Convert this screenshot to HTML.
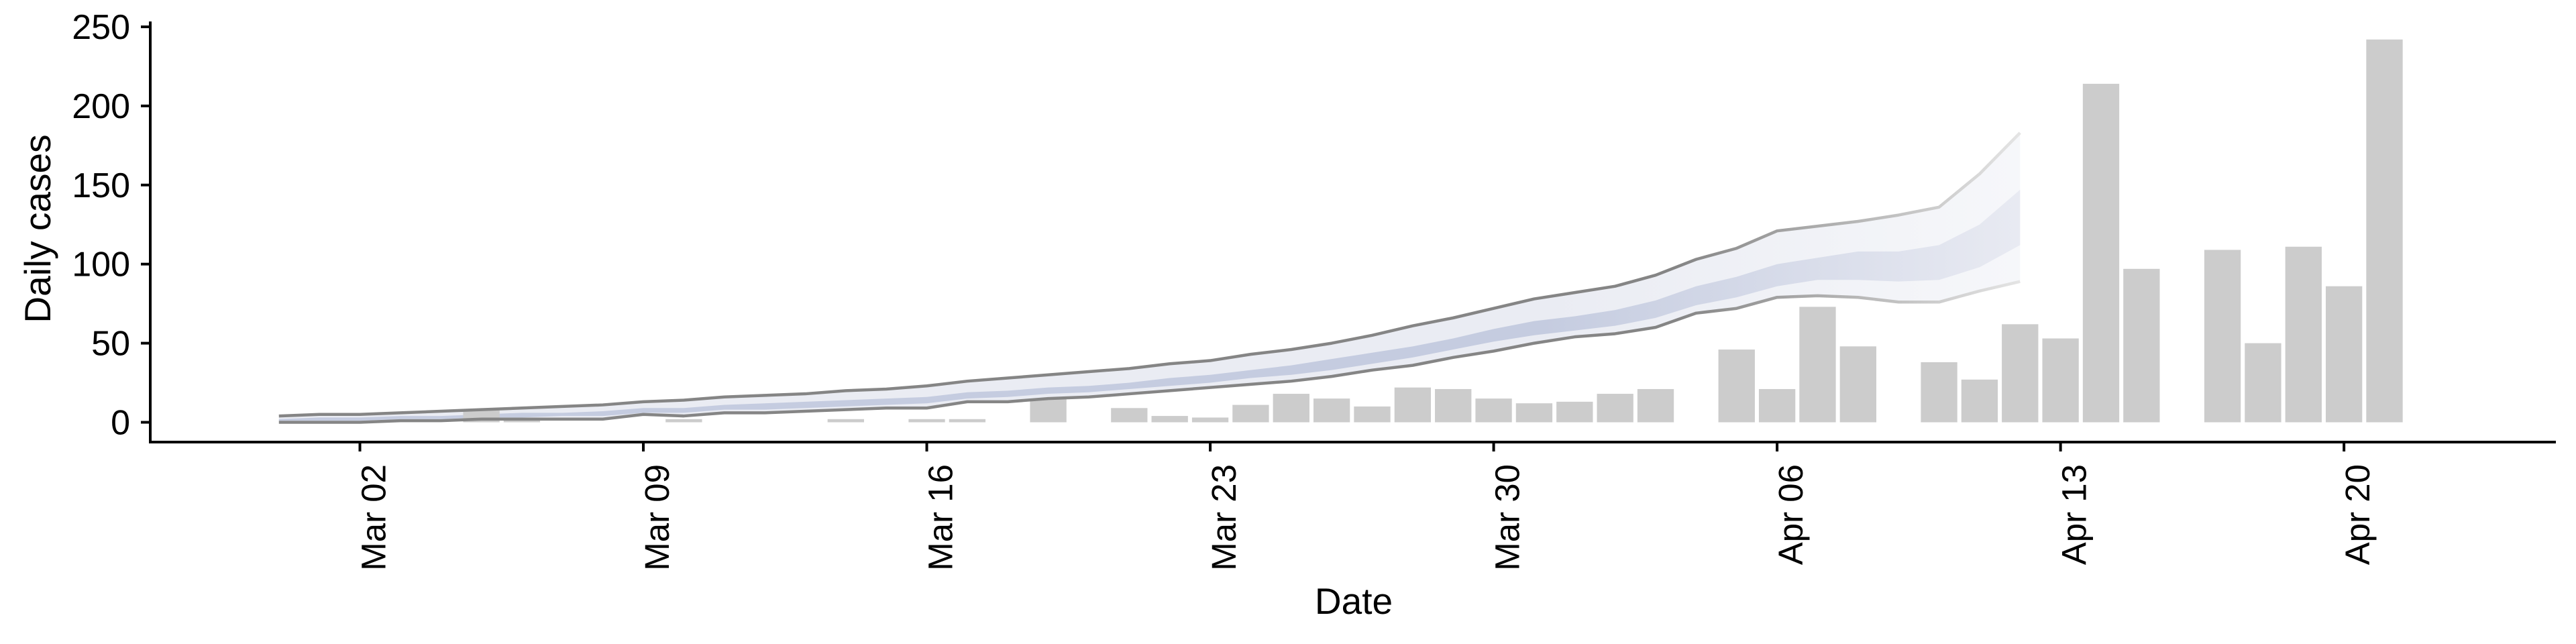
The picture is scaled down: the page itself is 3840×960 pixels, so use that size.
<!DOCTYPE html>
<html><head><meta charset="utf-8"><style>
html,body{margin:0;padding:0;background:#fff;}
svg{display:block;font-family:"Liberation Sans",sans-serif;}
</style></head><body>
<svg id="chart" width="3840" height="960" xmlns="http://www.w3.org/2000/svg">
<defs>
<linearGradient id="gOuter" gradientUnits="userSpaceOnUse" x1="2300" y1="0" x2="3010" y2="0">
<stop offset="0" stop-color="#eaecf3"/><stop offset="1" stop-color="#f6f7fa"/></linearGradient>
<linearGradient id="gInner" gradientUnits="userSpaceOnUse" x1="2300" y1="0" x2="3010" y2="0">
<stop offset="0" stop-color="#c5cce0"/><stop offset="1" stop-color="#e8eaf2"/></linearGradient>
<linearGradient id="gLine" gradientUnits="userSpaceOnUse" x1="2500" y1="0" x2="3010" y2="0">
<stop offset="0" stop-color="#858585"/><stop offset="1" stop-color="#e4e4e4"/></linearGradient>
</defs>
<g id="bands"></g><g id="bars"></g><g id="lines"></g><g id="axes"></g>
</svg>
<script>
// day offsets relative to Mar 02
const barDays = [3,4,8,12,14,15,17,19,20,21,22,23,24,25,26,27,28,29,30,31,32,34,35,36,37,39,40,41,42,43,44,46,47,48,49,50];
const barValues = [8,1.5,2,2,2,2,15,9,4,3,11,18,15,10,22,21,15,12,13,18,21,46,21,73,48,38,27,62,53,214,97,109,50,111,86,242];
const bandDays = [-2,-1,0,1,2,3,4,5,6,7,8,9,10,11,12,13,14,15,16,17,18,19,20,21,22,23,24,25,26,27,28,29,30,31,32,33,34,35,36,37,38,39,40,41];
const upper = [4,5,5,6,7,8,9,10,11,13,14,16,17,18,20,21,23,26,28,30,32,34,37,39,43,46,50,55,61,66,72,78,82,86,93,103,110,121,124,127,131,136,157,183];
const lower = [0,0,0,1,1,2,2,2,2,5,4,6,6,7,8,9,9,13,13,15,16,18,20,22,24,26,29,33,36,41,45,50,54,56,60,69,72,79,80,79,76,76,83,89];
const innerHi = [2,3,3,4,4,5,6,6,7,9,9,11,12,13,14,15,16,19,20,22,23,25,28,30,33,36,40,44,48,53,59,64,67,71,77,86,92,100,104,108,108,112,125,147];
const innerLo = [1,1,1,2,2,3,3,4,4,6,6,8,8,9,10,11,12,15,16,18,19,21,23,25,28,30,33,37,41,46,51,55,58,61,66,74,79,86,90,90,89,90,98,112];
const yTicks = [0,50,100,150,200,250];
const xTickDays = [0,7,14,21,28,35,42,49];
const xTickLabels = ["Mar 02","Mar 09","Mar 16","Mar 23","Mar 30","Apr 06","Apr 13","Apr 20"];

const NS="http://www.w3.org/2000/svg";
const X = d => 536.5 + d*60.36;
const Y = v => 629.5 - v*2.358;
function mk(tag, attrs, parent){const e=document.createElementNS(NS,tag);for(const k in attrs)e.setAttribute(k,attrs[k]);parent.appendChild(e);return e;}
const gB=document.getElementById('bands'),gR=document.getElementById('bars'),gL=document.getElementById('lines'),gA=document.getElementById('axes');

function area(hi,lo){let p=bandDays.map((d,i)=>X(d)+','+Y(hi[i]));for(let i=bandDays.length-1;i>=0;i--)p.push(X(bandDays[i])+','+Y(lo[i]));return p.join(' ');}
const ob=mk('polygon',{points:area(upper,lower),fill:'url(#gOuter)'},gB);


const ib=mk('polygon',{points:area(innerHi,innerLo),fill:'url(#gInner)'},gB);



barDays.forEach((d,i)=>{
  const r=mk('rect',{x:X(d)-0.45*60.36,y:Y(barValues[i]),width:0.9*60.36,height:Y(0)-Y(barValues[i]),fill:'#cccccc'},gR);
  
  
});

[upper,lower].forEach((s,k)=>{
  const l=mk('polyline',{points:bandDays.map((d,i)=>X(d)+','+Y(s[i])).join(' '),fill:'none',stroke:'url(#gLine)','stroke-width':4.5,'stroke-linejoin':'round'},gL);
  
  
});

// axes
const ya=mk('line',{x1:224,y1:32,x2:224,y2:661,stroke:'#000','stroke-width':4},gA);


const xa=mk('line',{x1:222,y1:659,x2:3810,y2:659,stroke:'#000','stroke-width':4},gA);


yTicks.forEach(v=>{
  mk('line',{x1:210,y1:Y(v),x2:224,y2:Y(v),stroke:'#000','stroke-width':4},gA);
  const t=mk('text',{x:194,y:Y(v)+18,'text-anchor':'end','font-size':52,fill:'#000'},gA);
  t.textContent=v;
  
  
});
xTickDays.forEach((d,i)=>{
  mk('line',{x1:X(d),y1:659,x2:X(d),y2:673,stroke:'#000','stroke-width':4},gA);
  const t=mk('text',{x:0,y:0,'text-anchor':'end','font-size':51,fill:'#000',transform:`translate(${X(d)+38},692) rotate(-90)`},gA);
  t.textContent=xTickLabels[i];
  
  
});
const yt=mk('text',{x:0,y:0,'text-anchor':'middle','font-size':55,fill:'#000',transform:'translate(75,341) rotate(-90)'},gA);
yt.textContent='Daily cases';


const xt=mk('text',{x:2018,y:915,'text-anchor':'middle','font-size':55,fill:'#000'},gA);
xt.textContent='Date';


</script>
</body></html>
